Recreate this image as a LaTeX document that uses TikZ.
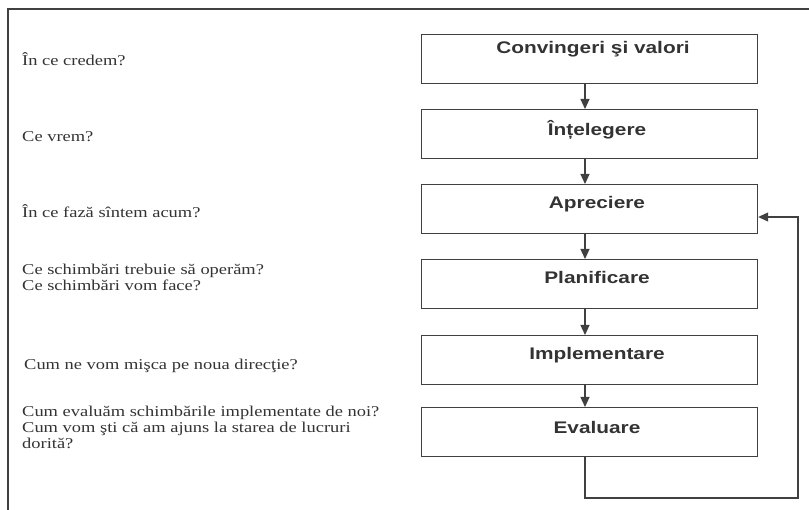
\documentclass[tikz,border=0pt]{standalone}
\usepackage{fontspec}
\usetikzlibrary{arrows.meta}
\newfontfamily\qfont{Liberation Serif}[FakeStretch=1.23]
\newfontfamily\stagefont{Liberation Sans}[FakeStretch=1.24]
\definecolor{ink}{HTML}{333333}
\definecolor{frame}{HTML}{404040}
\tikzset{
  stagebox/.style={draw=frame, line width=1.2pt, minimum width=336pt, minimum height=49pt, inner sep=0pt, anchor=north west},
  stagelabel/.style={font=\stagefont\bfseries\fontsize{16.8}{18}\selectfont, text=ink, anchor=base, inner sep=0pt},
  % multi-line questions are placed by the baseline of their last line
  question/.style={font=\qfont\fontsize{15}{16}\selectfont, text=ink, anchor=base west, align=left, inner sep=0pt},
  flow/.style={draw=frame, line width=1.2pt, -{Triangle[length=10pt,width=9pt]}},
}
\begin{document}
\begin{tikzpicture}[x=1pt,y=-1pt]
\useasboundingbox (0,0) rectangle (809,510);
% outer frame (top and left edges)
\draw[frame, line width=2pt] (8,510) -- (8,9) -- (809,9);

% stage boxes
\node[stagebox] (b1) at (421,34) {};
\node[stagebox] (b2) at (421,109) {};
\node[stagebox] (b3) at (421,184) {};
\node[stagebox] (b4) at (421,259) {};
\node[stagebox] (b5) at (421,335) {};
\node[stagebox] (b6) at (421,407) {};

\node[stagelabel] (t1) at (593,54) {Convingeri şi valori};
\node[stagelabel] (t2) at (597,136) {Înțelegere};
\node[stagelabel] (t3) at (597,209) {Apreciere};
\node[stagelabel] (t4) at (597,284) {Planificare};
\node[stagelabel] (t5) at (597,360) {Implementare};
\node[stagelabel] (t6) at (597,434) {Evaluare};

% guiding questions
\node[question] (q1) at (22,66) {În ce credem?};
\node[question] (q2) at (22,142) {Ce vrem?};
\node[question] (q3) at (22,218) {În ce fază sîntem acum?};
\node[question] (q4) at (22,291) {Ce schimbări trebuie să operăm?\\Ce schimbări vom face?};
\node[question] (q5) at (24,370) {Cum ne vom mişca pe noua direcţie?};
\node[question] (q6) at (22,449) {Cum evaluăm schimbările implementate de noi?\\Cum vom şti că am ajuns la starea de lucruri\\dorită?};

% connectors
\coordinate (ax) at (585,0);
\draw[flow] (b1.south -| ax) -- (b2.north -| ax);
\draw[flow] (b2.south -| ax) -- (b3.north -| ax);
\draw[flow] (b3.south -| ax) -- (b4.north -| ax);
\draw[flow] (b4.south -| ax) -- (b5.north -| ax);
\draw[flow] (b5.south -| ax) -- (b6.north -| ax);

% feedback loop from evaluation back to appraisal
\coordinate (loopcorner) at (798,498);
\coordinate (loopreturn) at (798,217);
\draw[flow] (b6.south -| ax) |- (loopcorner) -- (loopreturn) -- (loopreturn -| b3.east);
\end{tikzpicture}
\end{document}
